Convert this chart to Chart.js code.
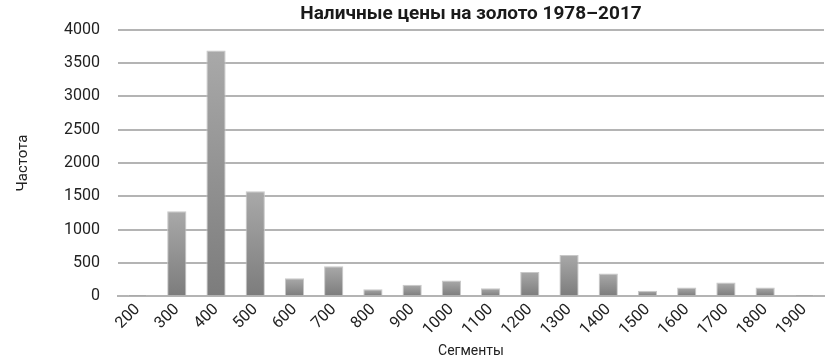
<!DOCTYPE html>
<html>
<head>
<meta charset="utf-8">
<script src="https://cdn.jsdelivr.net/npm/chart.js@4"></script>
<style>
  html, body { margin: 0; padding: 0; background: #fff; }
  #wrap { width: 830px; height: 362px; }
</style>
</head>
<body>
<div id="wrap"><canvas id="chart"></canvas></div>
<script>
const segments = ['200', '300', '400', '500', '600', '700', '800', '900', '1000', '1100', '1200', '1300', '1400', '1500', '1600', '1700', '1800', '1900'];
const frequency = [8, 1275, 3690, 1575, 270, 450, 105, 170, 235, 120, 365, 620, 340, 80, 130, 205, 130, 5];
const yTicks = [0, 500, 1000, 1500, 2000, 2500, 3000, 3500, 4000];

const font = 'Roboto, "DejaVu Sans", sans-serif';

// each bar gets its own light-to-dark gradient
function barFill(ctx) {
  const chart = ctx.chart;
  const y = chart.scales.y;
  if (!chart.chartArea || !y || ctx.type !== 'data') return '#8c8c8c';
  const top = y.getPixelForValue(ctx.raw);
  const bottom = y.getPixelForValue(0);
  if (bottom - top < 1) return '#8c8c8c';
  const g = chart.ctx.createLinearGradient(0, top, 0, bottom);
  g.addColorStop(0, '#a9a9a9');
  g.addColorStop(1, '#7c7c7c');
  return g;
}

new Chart(document.getElementById('chart').getContext('2d'), {
  type: 'bar',
  data: {
    labels: segments,
    datasets: [{
      label: 'Частота',
      data: frequency,
      backgroundColor: barFill,
      borderColor: '#c8c8c8',
      borderWidth: { top: 1, left: 1, right: 1, bottom: 0 },
      categoryPercentage: 1,
      barPercentage: 0.49,
    }],
  },
  options: {
    responsive: true,
    maintainAspectRatio: false,
    animation: false,
    layout: { padding: { left: 14, right: 6, top: 1, bottom: 2 } },
    plugins: {
      legend: { display: false },
      tooltip: { enabled: false },
      title: {
        display: true,
        text: 'Наличные цены на золото 1978–2017',
        fullSize: false,
        color: '#1a1a1a',
        font: { family: font, size: 19, weight: 'bold' },
        padding: { top: 2, bottom: 4 },
      },
    },
    scales: {
      x: {
        grid: { display: false, drawTicks: false },
        border: { display: true, color: '#b4b4b4', width: 2 },
        ticks: {
          color: '#222',
          font: { family: font, size: 16 },
          maxRotation: 45,
          minRotation: 45,
          padding: 4,
        },
        title: {
          display: true,
          text: 'Сегменты',
          color: '#222',
          font: { family: font, size: 14 },
          padding: { top: 0, bottom: 0 },
        },
      },
      y: {
        min: 0,
        max: 4000,
        afterBuildTicks: axis => { axis.ticks = yTicks.map(v => ({ value: v })); },
        grid: { color: '#b4b4b4', lineWidth: 2, drawTicks: false },
        border: { display: false },
        ticks: {
          color: '#222',
          font: { family: font, size: 16 },
          padding: 18,
          callback: v => String(v),
        },
        title: {
          display: true,
          text: 'Частота',
          color: '#222',
          font: { family: font, size: 15 },
          padding: { top: 0, bottom: 14 },
        },
      },
    },
  },
});
</script>
</body>
</html>
